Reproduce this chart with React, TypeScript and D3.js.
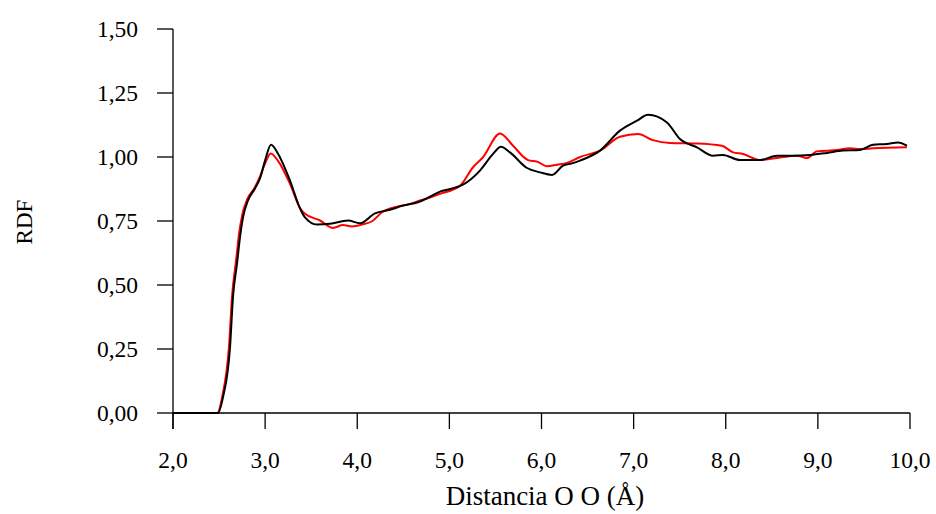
import React from "react";
import * as d3 from "d3";

// Radial distribution function g(r) for the O–O pair, two runs
const rBlack = [2.0, 2.488, 2.543, 2.619, 2.651, 2.695, 2.727, 2.76, 2.814, 2.89, 2.944, 2.999, 3.064, 3.14, 3.27, 3.379, 3.433, 3.563, 3.704, 3.9, 4.03, 4.193, 4.355, 4.497, 4.659, 4.79, 4.898, 5.007, 5.148, 5.332, 5.474, 5.56, 5.658, 5.843, 5.984, 6.114, 6.233, 6.33, 6.418, 6.635, 6.852, 7.037, 7.156, 7.362, 7.503, 7.688, 7.862, 7.97, 8.155, 8.372, 8.556, 8.73, 8.914, 9.099, 9.273, 9.457, 9.598, 9.75, 9.87, 9.967];
const gBlack = [0, 0, 0.062, 0.257, 0.452, 0.584, 0.686, 0.764, 0.83, 0.877, 0.916, 0.986, 1.048, 1.013, 0.908, 0.799, 0.764, 0.736, 0.739, 0.752, 0.741, 0.78, 0.794, 0.81, 0.823, 0.845, 0.865, 0.875, 0.892, 0.947, 1.012, 1.04, 1.018, 0.957, 0.94, 0.93, 0.966, 0.975, 0.986, 1.025, 1.103, 1.142, 1.165, 1.135, 1.07, 1.038, 1.005, 1.008, 0.988, 0.988, 1.005, 1.005, 1.008, 1.016, 1.025, 1.027, 1.048, 1.051, 1.057, 1.044];

const rRed = [2.0, 2.48, 2.535, 2.608, 2.642, 2.686, 2.717, 2.752, 2.806, 2.886, 2.94, 3.0, 3.06, 3.14, 3.27, 3.38, 3.433, 3.596, 3.737, 3.845, 3.943, 4.052, 4.161, 4.269, 4.432, 4.573, 4.682, 4.79, 4.898, 5.116, 5.257, 5.365, 5.55, 5.691, 5.854, 5.952, 6.06, 6.169, 6.277, 6.418, 6.635, 6.852, 7.048, 7.21, 7.395, 7.688, 7.959, 8.079, 8.187, 8.372, 8.556, 8.773, 8.881, 8.99, 9.207, 9.348, 9.457, 9.598, 9.967];
const gRed = [0, 0, 0.065, 0.26, 0.46, 0.6, 0.7, 0.775, 0.835, 0.88, 0.92, 0.975, 1.014, 0.985, 0.895, 0.8, 0.778, 0.752, 0.723, 0.734, 0.729, 0.736, 0.749, 0.784, 0.806, 0.817, 0.83, 0.842, 0.856, 0.888, 0.96, 0.999, 1.092, 1.044, 0.988, 0.982, 0.964, 0.97, 0.977, 1.0, 1.025, 1.079, 1.09, 1.066, 1.055, 1.053, 1.044, 1.018, 1.012, 0.988, 0.996, 1.005, 0.996, 1.022, 1.027, 1.034, 1.031, 1.034, 1.038];

const xTicks = [2, 3, 4, 5, 6, 7, 8, 9, 10];
const yTicks = [0, 0.25, 0.5, 0.75, 1.0, 1.25, 1.5];

const W = 936;
const H = 514;
const left = 173;
const right = 910;
const top = 29;
const bottom = 413;
const FONT = "'Liberation Serif', 'Times New Roman', serif";

const comma = (v: number, d: number) => v.toFixed(d).replace(".", ",");

export default function App() {
  const x = d3.scaleLinear().domain([2, 10]).range([left, right]);
  const y = d3.scaleLinear().domain([0, 1.5]).range([bottom, top]);

  const line = d3
    .line<[number, number]>()
    .x((d) => x(d[0]))
    .y((d) => y(d[1]))
    .curve(d3.curveMonotoneX);

  const red = line(rRed.map((r, i) => [r, gRed[i]]) as [number, number][]) || "";
  const black = line(rBlack.map((r, i) => [r, gBlack[i]]) as [number, number][]) || "";

  return (
    <svg
      width={W}
      height={H}
      style={{ position: "absolute", left: 0, top: 0, background: "#fff" }}
      fontFamily={FONT}
    >
      {/* y axis */}
      <line x1={left} x2={left} y1={top} y2={bottom + 16} stroke="#000" strokeWidth={1.3} />
      {yTicks.map((t) => (
        <g key={t}>
          <line x1={left - 16} x2={left} y1={y(t)} y2={y(t)} stroke="#000" strokeWidth={1.3} />
          <text x={138} y={y(t)} dy="0.34em" textAnchor="end" fontSize={23.5}>
            {comma(t, 2)}
          </text>
        </g>
      ))}
      <text
        transform={`translate(32, ${(top + bottom) / 2 + 1}) rotate(-90)`}
        textAnchor="middle"
        fontSize={23}
      >
        RDF
      </text>

      {/* x axis */}
      <line x1={left} x2={right} y1={bottom} y2={bottom} stroke="#000" strokeWidth={1.3} />
      {xTicks.map((t) => (
        <g key={t}>
          <line x1={x(t)} x2={x(t)} y1={bottom} y2={bottom + 16} stroke="#000" strokeWidth={1.3} />
          <text x={x(t)} y={468} textAnchor="middle" fontSize={23.5}>
            {comma(t, 1)}
          </text>
        </g>
      ))}
      <text x={545} y={505} textAnchor="middle" fontSize={27}>
        Distancia O O (Å)
      </text>

      {/* curves */}
      <path d={red} fill="none" stroke="#ff0000" strokeWidth={2} />
      <path d={black} fill="none" stroke="#000" strokeWidth={2} />
    </svg>
  );
}
